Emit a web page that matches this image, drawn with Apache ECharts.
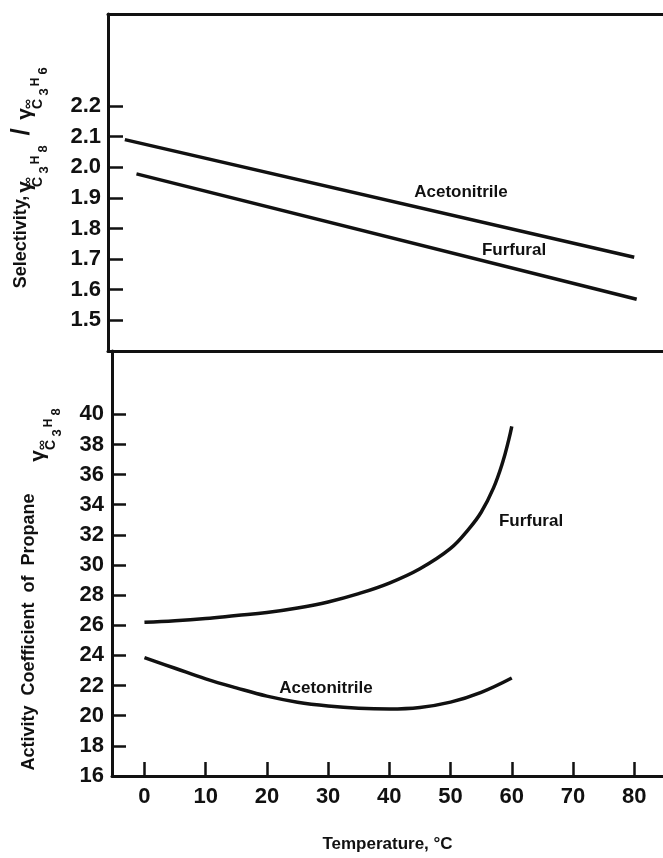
<!DOCTYPE html>
<html>
<head>
<meta charset="utf-8">
<script src="https://cdn.jsdelivr.net/npm/echarts@6/dist/echarts.min.js"></script>
<style>
html,body{margin:0;padding:0;background:#fff;}
#chart{width:663px;height:858px;}
</style>
</head>
<body>
<div id="chart"></div>
<script>
// ---- data ----
const xTickValues = [0, 10, 20, 30, 40, 50, 60, 70, 80];
const selTickValues = [1.5, 1.6, 1.7, 1.8, 1.9, 2.0, 2.1, 2.2];
const actTickValues = [16, 18, 20, 22, 24, 26, 28, 30, 32, 34, 36, 38, 40];

// Top panel: selectivity (straight lines)
const selAcetonitrile = [[-3.2, 2.09], [80, 1.706]];
const selFurfural = [[-1.3, 1.978], [80.4, 1.569]];

// Bottom panel: activity coefficient of propane
const actFurfural = [[0, 26.2], [5, 26.3], [10, 26.45], [15, 26.65], [20, 26.85], [25, 27.15], [30, 27.55], [35, 28.1], [40, 28.8], [45, 29.75], [50, 31.1], [53, 32.4], [55, 33.5], [57, 35.1], [58.5, 36.8], [59.5, 38.3], [60, 39.2]];
const actAcetonitrile = [[0, 23.85], [5, 23.15], [10, 22.45], [15, 21.85], [20, 21.3], [25, 20.9], [30, 20.65], [35, 20.5], [40, 20.45], [45, 20.55], [50, 20.9], [55, 21.55], [60, 22.5]];

const FF = "'Liberation Sans', Arial, sans-serif";
const BLACK = '#111';

function rtext(x, y, text, size) {
  return {
    type: 'text', x: x, y: y, rotation: Math.PI / 2, silent: true,
    style: { text: text, font: 'bold ' + size + 'px ' + FF, fill: BLACK,
      align: 'center', verticalAlign: 'middle', textAlign: 'center', textVerticalAlign: 'middle' }
  };
}
function htext(x, y, text, size) {
  return {
    type: 'text', x: x, y: y, silent: true,
    style: { text: text, font: 'bold ' + size + 'px ' + FF, fill: BLACK,
      align: 'center', verticalAlign: 'middle', textAlign: 'center', textVerticalAlign: 'middle' }
  };
}

const chart = echarts.init(document.getElementById('chart'), null, { renderer: 'canvas' });

const axisLineStyle = { show: true, onZero: false, lineStyle: { color: BLACK, width: 3 } };

const option = {
  backgroundColor: '#fff',
  animation: false,
  grid: [
    { left: 108, right: 0, top: 14, height: 337 },
    { left: 112, right: 0, top: 351, height: 434 }
  ],
  xAxis: [
    { gridIndex: 0, type: 'value', position: 'bottom', min: -5.95, max: 84.7,
      axisLine: axisLineStyle, axisTick: { show: false }, axisLabel: { show: false }, splitLine: { show: false } },
    { gridIndex: 0, type: 'value', position: 'top', min: -5.95, max: 84.7,
      axisLine: axisLineStyle, axisTick: { show: false }, axisLabel: { show: false }, splitLine: { show: false } },
    { gridIndex: 1, type: 'value', position: 'bottom', min: -5.3, max: 84.7,
      axisLine: axisLineStyle,
      axisTick: { show: true, inside: true, length: 14, customValues: xTickValues, lineStyle: { color: BLACK, width: 2.5 } },
      axisLabel: { show: true, customValues: xTickValues, margin: 10, color: BLACK, fontSize: 22, fontWeight: 'bold', fontFamily: FF },
      splitLine: { show: false },
      name: 'Temperature, °C', nameLocation: 'middle', nameGap: 60,
      nameTextStyle: { color: BLACK, fontSize: 17, fontWeight: 'bold', fontFamily: FF } }
  ],
  yAxis: [
    { gridIndex: 0, type: 'value', min: 1.4, max: 2.5,
      axisLine: axisLineStyle,
      axisTick: { show: true, inside: true, length: 15, customValues: selTickValues, lineStyle: { color: BLACK, width: 2.5 } },
      axisLabel: { show: true, customValues: selTickValues, margin: 7, color: BLACK, fontSize: 22, fontWeight: 'bold', fontFamily: FF,
        formatter: v => v.toFixed(1) },
      splitLine: { show: false } },
    { gridIndex: 1, type: 'value', min: 16, max: 44.2,
      axisLine: axisLineStyle,
      axisTick: { show: true, inside: true, length: 14, customValues: actTickValues, lineStyle: { color: BLACK, width: 2.5 } },
      axisLabel: { show: true, customValues: actTickValues, margin: 8, color: BLACK, fontSize: 22, fontWeight: 'bold', fontFamily: FF },
      splitLine: { show: false } }
  ],
  series: [
    { name: 'Acetonitrile (selectivity)', type: 'line', xAxisIndex: 0, yAxisIndex: 0, data: selAcetonitrile,
      showSymbol: false, lineStyle: { color: BLACK, width: 3.5 } },
    { name: 'Furfural (selectivity)', type: 'line', xAxisIndex: 0, yAxisIndex: 0, data: selFurfural,
      showSymbol: false, lineStyle: { color: BLACK, width: 3.5 } },
    { name: 'Furfural (activity)', type: 'line', xAxisIndex: 2, yAxisIndex: 1, data: actFurfural,
      smooth: 0.4, showSymbol: false, lineStyle: { color: BLACK, width: 3.5 } },
    { name: 'Acetonitrile (activity)', type: 'line', xAxisIndex: 2, yAxisIndex: 1, data: actAcetonitrile,
      smooth: 0.4, showSymbol: false, lineStyle: { color: BLACK, width: 3.5 } }
  ],
  graphic: [
    // curve labels
    htext(461, 192, 'Acetonitrile', 17),
    htext(514, 250, 'Furfural', 17),
    htext(531, 521, 'Furfural', 17),
    htext(326, 688, 'Acetonitrile', 17),
    // top y-axis name
    rtext(21, 242, 'Selectivity,', 18),
    rtext(25, 187, 'γ', 21),
    rtext(28, 182, '∞', 14),
    rtext(38, 182, 'C', 14),
    rtext(44, 170, '3', 13),
    rtext(36, 160, 'H', 12),
    rtext(43, 149, '8', 13),
    rtext(22, 132, '/', 26),
    rtext(25, 114, 'γ', 21),
    rtext(28, 104, '∞', 14),
    rtext(38, 104, 'C', 14),
    rtext(44, 92, '3', 13),
    rtext(36, 82, 'H', 12),
    rtext(43, 71, '6', 13),
    // bottom y-axis name
    rtext(29, 632, 'Activity  Coefficient  of  Propane', 18),
    rtext(38, 456, 'γ', 21),
    rtext(42, 445, '∞', 14),
    rtext(51, 445, 'C', 14),
    rtext(57, 433, '3', 13),
    rtext(49, 423, 'H', 12),
    rtext(56, 412, '8', 13)
  ]
};
chart.setOption(option);
</script>
</body>
</html>
